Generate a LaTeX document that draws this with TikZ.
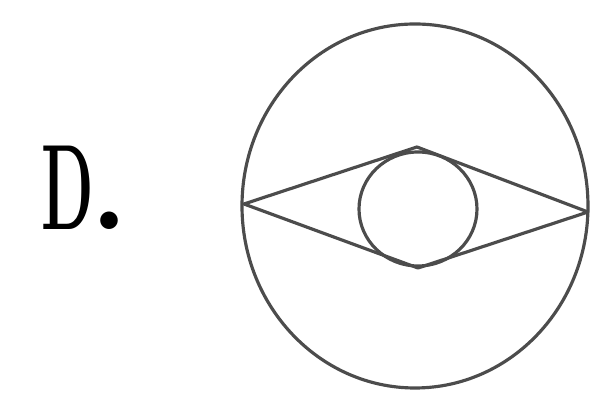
\documentclass[tikz,border=0pt]{standalone}
\usepackage{tikz}

\begin{document}
\begin{tikzpicture}[
      x=0.01cm, y=-0.01cm,
      linie/.style={draw=black!70, line width=0.9pt},
      buchstabe/.style={font=\fontsize{34.6}{40}\selectfont\bfseries, inner sep=0pt, anchor=base west}
    ]
    \useasboundingbox (0,0) rectangle (590,401);
    \def\MX{415}  % Mittelpunkt des grossen Kreises
    \def\MY{206}

    % ---------- Beschriftung ----------
    \node[buchstabe] (d) at (41,230) {\scalebox{0.5}[1]{D}\hspace{-1pt}.};

    % ---------- grosser Kreis ----------
    \draw[linie] (\MX,\MY) ellipse (173 and 182);

    % ---------- Raute ----------
    \coordinate (links)  at (244,204);
    \coordinate (oben)   at (417,147);
    \coordinate (rechts) at (588,212);
    \coordinate (unten)  at (418,268);
    \draw[linie, line join=round] (links) -- (oben) -- (rechts) -- (unten) -- cycle;

    % ---------- kleiner Kreis ----------
    \draw[linie] (418,209) ellipse (59 and 57);
  \end{tikzpicture}
\end{document}
